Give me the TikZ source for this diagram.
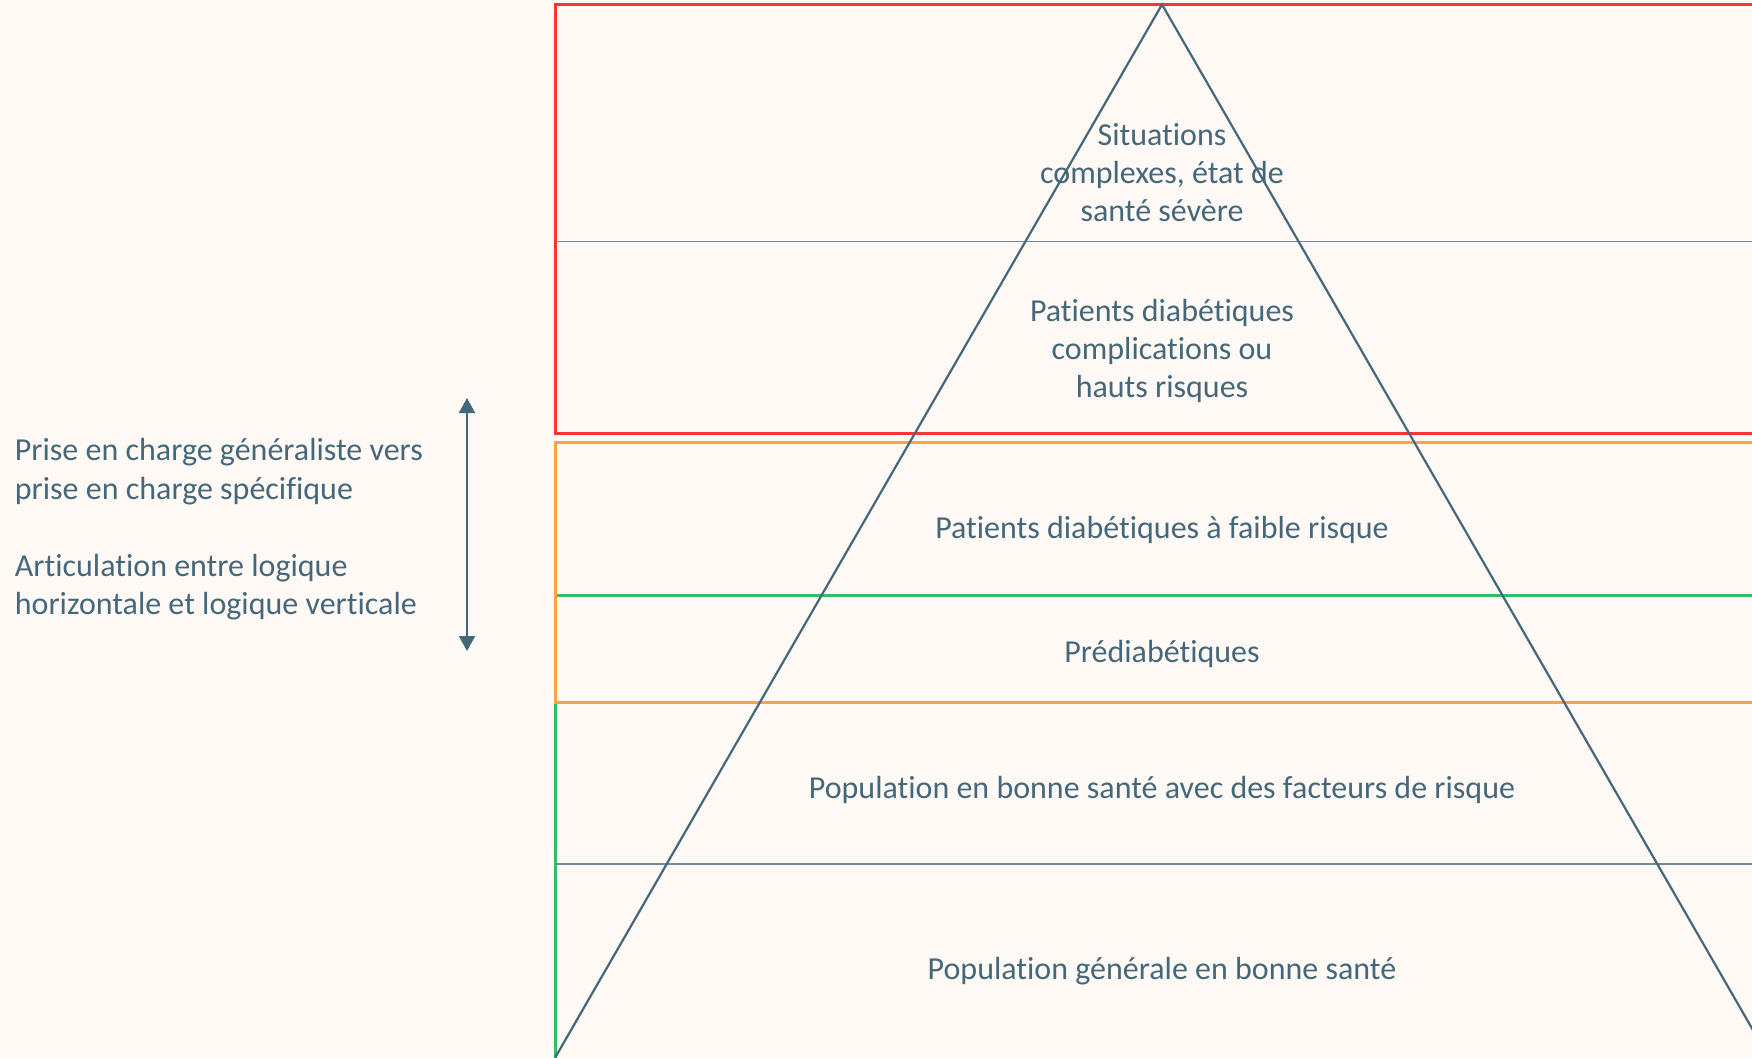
\documentclass[tikz,border=0pt]{standalone}
\usepackage{fontspec}
\setmainfont{Carlito}[RawFeature=-liga]
\usetikzlibrary{arrows.meta}
\definecolor{paper}{RGB}{255,249,245}
\definecolor{slate}{RGB}{68,104,122}
\definecolor{rule}{RGB}{112,138,152}
\definecolor{levelred}{RGB}{255,51,51}
\definecolor{levelorange}{RGB}{255,163,68}
\definecolor{levelgreen}{RGB}{52,190,100}
\tikzset{
  label/.style={text=slate, font=\fontsize{16}{19}\selectfont, inner sep=0pt, align=center, anchor=base},
  sidetext/.style={text=slate, font=\fontsize{16}{19.2}\selectfont, inner sep=0pt, align=left, anchor=base west},
  band/.style={line width=1.4pt},
  divider/.style={draw=rule, line width=0.8pt},
  pyramid/.style={draw=slate, line width=1.1pt, line join=miter},
  twoway/.style={draw=slate, line width=1pt, {Triangle[length=7.5pt,width=8pt]}-{Triangle[length=7.5pt,width=8pt]}}
}
\begin{document}
\begin{tikzpicture}[x=0.5pt, y=-0.5pt]
  % canvas
  \fill[paper] (0,0) rectangle (1752,1057);
  \useasboundingbox (0,0) rectangle (1752,1057);

  \begin{scope}
    \clip (0,0) rectangle (1752,1057);
    % coloured level frames (open to the right)
    \draw[band, levelgreen] (555.5,595.5) rectangle (1770,1075);
    \draw[band, levelorange] (555.5,442.5) rectangle (1770,702.8);
    \draw[band, levelred] (555.5,4.5) rectangle (1770,433.5);
    % thin dividers inside the frames
    \draw[divider] (555.5,241.3) -- (1752,241.3);
    \draw[divider] (555.5,863.7) -- (1752,863.7);
    % pyramid
    \coordinate (apex) at (1162,4.5);
    \coordinate (baseL) at (555.5,1057);
    \coordinate (baseR) at (1768.5,1057);
    \draw[pyramid] (baseL) -- (apex) -- (baseR);
  \end{scope}

  % level labels (multi-line nodes sit on the baseline of their last line)
  \node[label] (l1) at (1162,221) {Situations\\complexes, état de\\santé sévère};
  \node[label] (l2) at (1162,397) {Patients diabétiques\\complications ou\\hauts risques};
  \node[label] (l3) at (1162,538) {Patients diabétiques à faible risque};
  \node[label] (l4) at (1162,662) {Prédiabétiques};
  \node[label] (l5) at (1162,798.5) {Population en bonne santé avec des facteurs de risque};
  \node[label] (l6) at (1162,979.5) {Population générale en bonne santé};

  % side explanation
  \node[sidetext] (s1) at (14.5,614.5) {Prise en charge généraliste vers\\prise en charge spécifique\\[19.2pt]Articulation entre logique\\horizontale et logique verticale};

  % vertical double arrow
  \coordinate (arrtop) at (467,398);
  \coordinate (arrbot) at (467,651);
  \draw[twoway] (arrtop) -- (arrbot);
\end{tikzpicture}
\end{document}
